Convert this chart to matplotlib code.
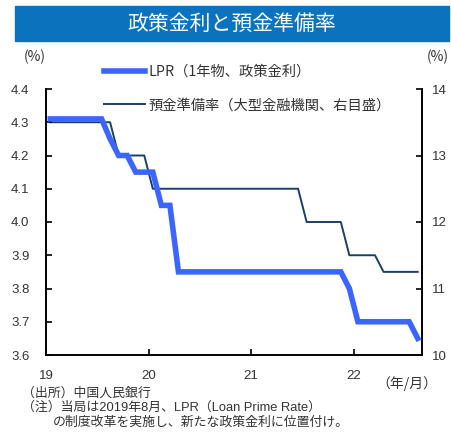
import matplotlib
matplotlib.use("Agg")
import matplotlib.pyplot as plt
import matplotlib.patches as mpatches
import pandas as pd

plt.rcParams['font.family'] = ['Liberation Sans', 'Noto Sans CJK JP']

title = "政策金利と預金準備率"
months = pd.period_range("2019-01", "2022-08", freq="M")
lpr = [4.31, 4.31, 4.31, 4.31, 4.31, 4.31, 4.31, 4.25, 4.20, 4.20, 4.15, 4.15,
       4.15, 4.05, 4.05, 3.85, 3.85, 3.85, 3.85, 3.85, 3.85, 3.85, 3.85, 3.85,
       3.85, 3.85, 3.85, 3.85, 3.85, 3.85, 3.85, 3.85, 3.85, 3.85, 3.85, 3.80,
       3.70, 3.70, 3.70, 3.70, 3.70, 3.70, 3.70, 3.65]
rrr = [13.5, 13.5, 13.5, 13.5, 13.5, 13.5, 13.5, 13.5, 13.0, 13.0, 13.0, 13.0,
       12.5, 12.5, 12.5, 12.5, 12.5, 12.5, 12.5, 12.5, 12.5, 12.5, 12.5, 12.5,
       12.5, 12.5, 12.5, 12.5, 12.5, 12.5, 12.0, 12.0, 12.0, 12.0, 12.0, 11.5,
       11.5, 11.5, 11.5, 11.25, 11.25, 11.25, 11.25, 11.25]
lpr_label = "LPR（1年物、政策金利）"
rrr_label = "預金準備率（大型金融機関、右目盛）"
xtick_labels = ["19", "20", "21", "22"]
left_ticks = [3.6, 3.7, 3.8, 3.9, 4.0, 4.1, 4.2, 4.3, 4.4]
right_ticks = [10, 11, 12, 13, 14]
notes = ["（出所）中国人民銀行",
         "（注）当局は2019年8月、LPR（Loan Prime Rate）",
         "の制度改革を実施し、新たな政策金利に位置付け。"]

W, H = 451, 446
fig = plt.figure(figsize=(W / 100, H / 100), dpi=100)
fig.patch.set_facecolor("white")

# title bar
fig.patches.append(mpatches.Rectangle((15 / W, 1 - 41 / H), (449 - 15) / W, 35 / H,
                                      transform=fig.transFigure, color="#0B72BD", zorder=0))
fig.text(232 / W, 1 - 23.5 / H, title, color="white", fontsize=15,
         ha="center", va="center", family=['Noto Sans CJK JP'])

ax = fig.add_axes([46 / W, 1 - 355 / H, (422 - 46) / W, (355 - 89) / H])
ax2 = ax.twinx()

n = len(months)
x = [i + 0.5 for i in range(n)]
l1, = ax.plot(x, lpr, color="#3A66FF", lw=4.0, solid_joinstyle="miter", zorder=3)
l2, = ax2.plot(x, rrr, color="#1B3F66", lw=1.4, zorder=2)
ax.set_zorder(ax2.get_zorder() + 1)
ax.patch.set_visible(False)

ax.set_xlim(0, n)
ax.set_ylim(3.6, 4.4)
ax2.set_ylim(10, 14)
ax.set_yticks(left_ticks)
ax.set_yticklabels([f"{v:.1f}" for v in left_ticks])
ax2.set_yticks(right_ticks)
ax2.set_yticklabels([str(v) for v in right_ticks])
ax.set_xticks([0, 12, 24, 36])
ax.set_xticklabels(xtick_labels)

tc = "#333333"
ax.tick_params(axis="y", direction="in", length=4, width=1.2, pad=12, labelsize=9.5, labelcolor=tc)
ax.tick_params(axis="x", direction="in", length=4, width=1.2, pad=11, labelsize=9.5, labelcolor=tc)
ax2.tick_params(axis="y", direction="in", length=4, width=1.2, pad=7, labelsize=9.5, labelcolor=tc)

for a in (ax, ax2):
    a.spines["top"].set_visible(False)
    for s in ("left", "right", "bottom"):
        a.spines[s].set_linewidth(1.2)
        a.spines[s].set_color("black")

fig.text(35 / W, 1 - 57 / H, "(%)", fontsize=10, ha="center", va="center", color=tc,
         family=['Noto Sans CJK JP'])
fig.text(449 / W, 1 - 57 / H, "(%)", fontsize=10, ha="right", va="center", color=tc,
         family=['Noto Sans CJK JP'])

leg = fig.legend([l1, l2], [lpr_label, rrr_label], loc="upper left",
                 bbox_to_anchor=(104 / W, 1 - 65 / H), frameon=False, fontsize=10.3,
                 handlelength=2.9, handletextpad=0.2, labelspacing=1.35,
                 borderpad=0, borderaxespad=0)
for t in leg.get_texts():
    t.set_color(tc)
    t.set_family(['Noto Sans CJK JP'])

fig.text(437 / W, 1 - 384 / H, "（年/月）", fontsize=10, ha="right", va="center", color=tc,
         family=['Noto Sans CJK JP'])
fig.text(22 / W, 1 - 393 / H, notes[0], fontsize=9.3, ha="left", va="center", color=tc,
         family=['Noto Sans CJK JP'])
fig.text(22 / W, 1 - 408 / H, notes[1], fontsize=9.3, ha="left", va="center", color=tc,
         family=['Liberation Sans', 'Noto Sans CJK JP'])
fig.text(53 / W, 1 - 422 / H, notes[2], fontsize=9.3, ha="left", va="center", color=tc,
         family=['Noto Sans CJK JP'])

fig.savefig("out.png", dpi=100)
